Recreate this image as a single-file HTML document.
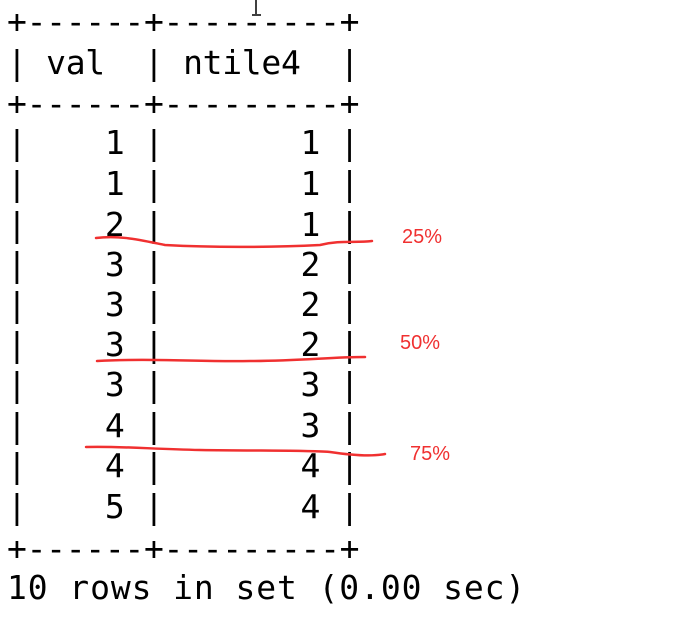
<!DOCTYPE html>
<html><head><meta charset="utf-8"><style>
html,body{margin:0;padding:0;background:#fff;width:688px;height:633px;overflow:hidden}
.l{position:absolute;left:7px;font-family:"DejaVu Sans Mono","Liberation Mono",monospace;font-size:33px;line-height:40px;height:40px;white-space:pre;color:#000;letter-spacing:-0.3px}
.r{position:absolute;font-family:"Liberation Sans",sans-serif;font-size:20px;color:#f03030}
</style></head><body>
<div class="l" style="top:2px">+------+---------+</div>
<div class="l" style="top:43px">| val  | ntile4  |</div>
<div class="l" style="top:84px">+------+---------+</div>
<div class="l" style="top:123px">|    1 |       1 |</div>
<div class="l" style="top:164px">|    1 |       1 |</div>
<div class="l" style="top:205px">|    2 |       1 |</div>
<div class="l" style="top:245px">|    3 |       2 |</div>
<div class="l" style="top:285px">|    3 |       2 |</div>
<div class="l" style="top:325px">|    3 |       2 |</div>
<div class="l" style="top:365px">|    3 |       3 |</div>
<div class="l" style="top:406px">|    4 |       3 |</div>
<div class="l" style="top:446px">|    4 |       4 |</div>
<div class="l" style="top:487px">|    5 |       4 |</div>
<div class="l" style="top:529px">+------+---------+</div>
<div class="l" style="top:568px;letter-spacing:0.9px">10 rows in set (0.00 sec)</div>
<svg width="688" height="633" style="position:absolute;left:0;top:0">
<path d="M256 0 V14 M252 15 H261" stroke="#000" stroke-width="1.5" fill="none"/>
<g stroke="#f03030" stroke-width="2.5" fill="none" stroke-linecap="round">
<path d="M96 238 C120 235 140 240 165 245 C220 248 280 247 320 245 C340 240 355 243 372 241"/>
<path d="M97 361 C150 358 200 362 250 361 C300 361 330 357 365 357"/>
<path d="M86 447 C120 446 150 449 200 450 C260 451 300 450 330 452 C350 455 370 457 385 454"/>
</g>
</svg>
<div class="r" style="left:402px;top:226px">25%</div>
<div class="r" style="left:400px;top:332px">50%</div>
<div class="r" style="left:410px;top:443px">75%</div>
</body></html>
